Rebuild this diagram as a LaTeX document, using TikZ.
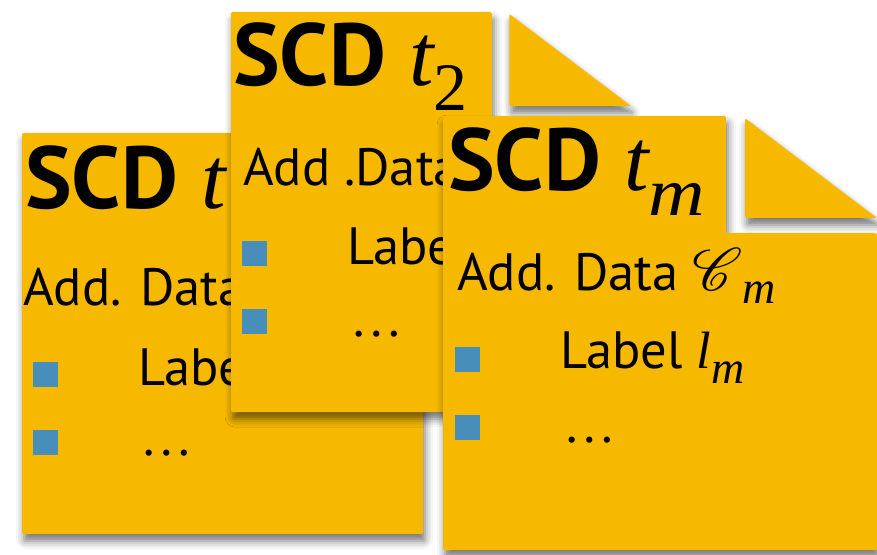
\documentclass[tikz,border=0pt]{standalone}
\usepackage{graphicx}
\usepackage{fontspec}
\usepackage{mathrsfs}
\setmainfont{PT Sans}
\newfontfamily\tms{Liberation Serif}
\usetikzlibrary{shadows.blur}

\definecolor{pagefill}{RGB}{246,185,0}
\definecolor{bulletblue}{RGB}{71,142,186}

\tikzset{
  x=1pt, y=-1pt,
  pageshape/.style={fill=pagefill, rounded corners=2pt,
    blur shadow={shadow xshift=2pt, shadow yshift=-7pt,
                 shadow blur radius=8pt, shadow opacity=55}},
  titletext/.style={anchor=base west, inner sep=0pt,
    font=\fontsize{88}{88}\selectfont},
  bodytext/.style={anchor=base west, inner sep=0pt,
    font=\fontsize{52.5}{52.5}\selectfont},
  bulletbox/.style={anchor=north west, fill=bulletblue,
    minimum size=25pt, inner sep=0pt},
}

% italic serif letter, a lowered subscript, a wide italic m
\newcommand\mvar[1]{{\tms\itshape #1}}
\newcommand\lowsub[3]{\raisebox{-#1}{\fontsize{#2}{#2}\selectfont\tms #3}}
\newcommand\widem{\scalebox{1.15}[1]{\itshape m}}
\newcommand\scrC{\resizebox{!}{42pt}{$\mathscr{C}$}}
\newcommand\dotsrow{{\tms …}}

% a page with its dog-ear cut off: #1,#2 top-left corner, #3 side length
\newcommand\docpage[3]{%
  \fill[pageshape] (#1,#2) -- (#1+0.652*#3,#2) -- (#1+0.652*#3,#2+0.27*#3)
    -- (#1+#3,#2+0.27*#3) -- (#1+#3,#2+#3) -- (#1,#2+#3) -- cycle;
  \fill[pageshape] (#1+0.696*#3,#2+0.005*#3) -- (#1+0.696*#3,#2+0.235*#3)
    -- (#1+#3,#2+0.235*#3) -- cycle;
}

\begin{document}
\begin{tikzpicture}
\useasboundingbox (0,0) rectangle (877,554);

% ---- page t1 (back) ----
\docpage{22}{133}{401}
\node[titletext] (title1) at (25,208) {\textbf{SCD} \mvar{t}\lowsub{25pt}{68}{1}};
\node[bodytext] (data1) at (23,305) {Add. Data \scrC\lowsub{13pt}{46}{1}};
\node[bulletbox] (b11) at (33,362) {};
\node[bulletbox] (b12) at (33,430) {};
\node[bodytext] (label1) at (138,385) {Label \mvar{l}\lowsub{15pt}{46}{1}};
\node[bodytext] (dots1) at (140,455) {\dotsrow};

% ---- page t2 (middle) ----
\docpage{231}{12}{400}
\node[titletext] (title2) at (233,85) {\textbf{SCD} \mvar{t}\lowsub{25pt}{68}{2}};
\node[bodytext] (data2) at (243,185) {Add .Data \scrC\lowsub{13pt}{46}{2}};
\node[bulletbox] (b21) at (242,241) {};
\node[bulletbox] (b22) at (242,309) {};
\node[bodytext] (label2) at (347,264) {Label \mvar{l}\lowsub{15pt}{46}{2}};
\node[bodytext] (dots2) at (350,336) {\dotsrow};

% ---- page tm (front) ----
\docpage{443}{116}{434}
\node[titletext] (title3) at (448,190) {\textbf{SCD} \mvar{t}\lowsub{25pt}{68}{\widem}};
\node[bodytext] (data3) at (457,290) {Add. Data \scrC\lowsub{13pt}{46}{\itshape m}};
\node[bulletbox] (b31) at (455,347) {};
\node[bulletbox] (b32) at (455,415) {};
\node[bodytext] (label3) at (560,368) {Label \mvar{l}\lowsub{15pt}{46}{\itshape m}};
\node[bodytext] (dots3) at (563,442) {\dotsrow};
\end{tikzpicture}
\end{document}
